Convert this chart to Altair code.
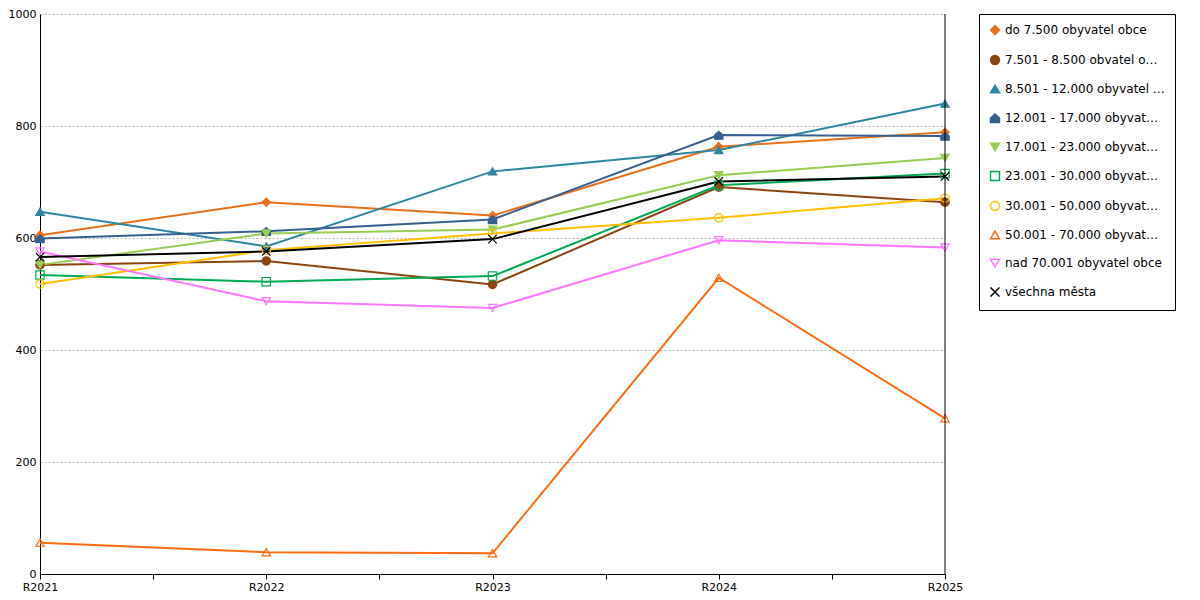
import altair as alt
import pandas as pd

years = ["R2021", "R2022", "R2023", "R2024", "R2025"]
series = [
    "do 7.500 obyvatel obce",
    "7.501 - 8.500 obvatel obce",
    "8.501 - 12.000 obyvatel obce",
    "12.001 - 17.000 obyvatel obce",
    "17.001 - 23.000 obyvatel obce",
    "23.001 - 30.000 obyvatel obce",
    "30.001 - 50.000 obyvatel obce",
    "50.001 - 70.000 obyvatel obce",
    "nad 70.001 obyvatel obce",
    "všechna města",
]
values = [
    [605, 664, 640, 763, 789],
    [552, 559, 517, 691, 664],
    [647, 585, 719, 757, 840],
    [599, 612, 633, 784, 782],
    [552, 608, 615, 712, 743],
    [534, 522, 532, 694, 715],
    [518, 578, 608, 636, 671],
    [56, 39, 37, 529, 278],
    [576, 487, 475, 596, 583],
    [566, 576, 598, 701, 710],
]
colors = ["#e8711c", "#8b4513", "#2e86a0", "#35608f", "#99cc55",
          "#00aa55", "#ffc000", "#ff6a13", "#ff77ff", "#000000"]
fills = ["#e8711c", "#8b4513", "#2e86a0", "#35608f", "#99cc55",
         "transparent", "transparent", "transparent", "transparent", "transparent"]
shapes = ["diamond", "circle", "triangle-up",
          "M-1,0L0,-0.9L1,0L1,1L-1,1Z", "triangle-down", "square",
          "circle", "triangle-up", "triangle-down", "M-1,-1L1,1M1,-1L-1,1"]

rows = []
for s, vals in zip(series, values):
    for i, v in enumerate(vals):
        rows.append({"s": s, "x": i, "v": v})
df = pd.DataFrame(rows)

xax = alt.Axis(values=[0, 0.5, 1, 1.5, 2, 2.5, 3, 3.5, 4], grid=False,
               labelExpr="datum.value % 1 == 0 ? " + str(years) + "[datum.value] : ''",
               title=None, domainColor="black", tickColor="black", labelColor="black",
               labelFlush=False, labelAngle=0, labelOverlap=False)
x = alt.X("x:Q", scale=alt.Scale(domain=[0, 4], nice=False), axis=xax)
y = alt.Y("v:Q", scale=alt.Scale(domain=[0, 1000]),
          axis=alt.Axis(values=[0, 200, 400, 600, 800, 1000], title=None, format="d",
                        gridDash=[2, 2], gridColor="#bbbbbb", domainColor="black",
                        tickSize=0, labelColor="black", labelPadding=4))

stroke = alt.Stroke("s:N", scale=alt.Scale(domain=series, range=colors), title=None)
base = alt.Chart(df)

lines = base.mark_line(strokeWidth=2).encode(x=x, y=y, stroke=stroke, detail="s:N")
points = base.mark_point(size=70, strokeWidth=1.2, opacity=1).encode(
    x=x, y=y,
    stroke=stroke,
    fill=alt.Fill("s:N", scale=alt.Scale(domain=series, range=fills), title=None),
    shape=alt.Shape("s:N", scale=alt.Scale(domain=series, range=shapes), title=None),
)
right = alt.Chart(pd.DataFrame({"x": [4]})).mark_rule(color="black").encode(x=alt.X("x:Q"))

chart = (lines + points + right).properties(width=905, height=560, padding=0).configure_view(
    stroke=None
).configure_legend(
    strokeColor="black", padding=10, rowPadding=14, labelLimit=160,
    labelFont="DejaVu Sans", labelFontSize=12, symbolSize=80, offset=30,
    labelColor="black", cornerRadius=0, fillColor="white",
).configure_axis(labelFont="DejaVu Sans", labelFontSize=11)

chart.save("out.html", embed_options={"renderer": "svg", "actions": False})
